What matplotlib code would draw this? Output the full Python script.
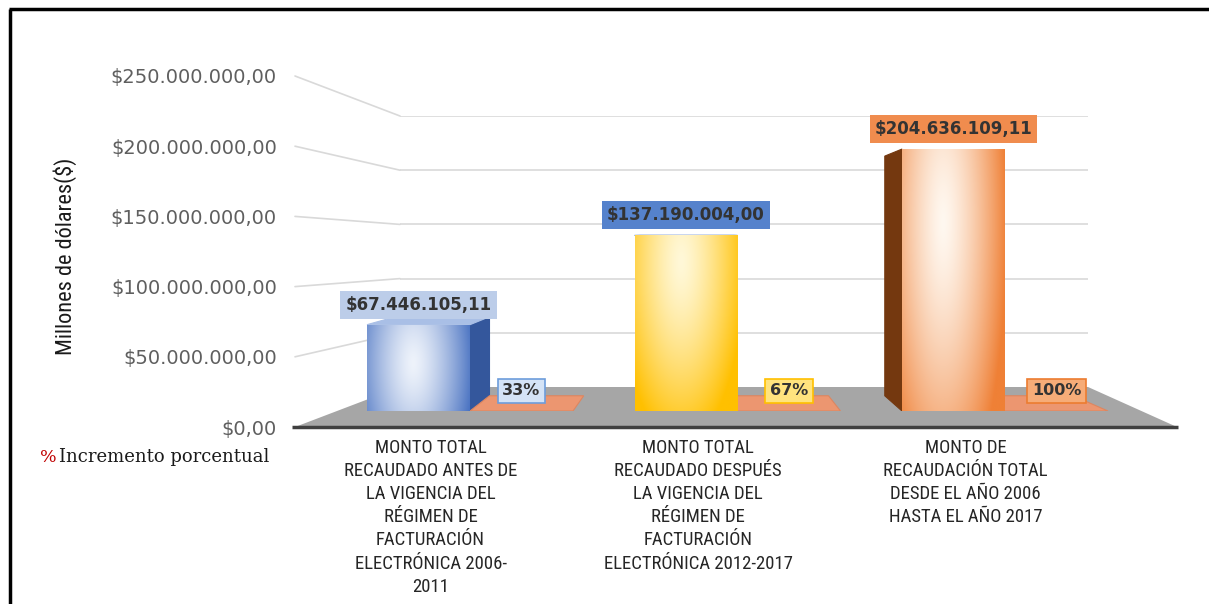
import numpy as np
import matplotlib
matplotlib.use("Agg")
import matplotlib.pyplot as plt
from matplotlib.patches import Polygon, ConnectionPatch
from matplotlib.colors import to_rgb

categorias = [
    "MONTO TOTAL\nRECAUDADO ANTES DE\nLA VIGENCIA DEL\nRÉGIMEN DE\nFACTURACIÓN\nELECTRÓNICA 2006-\n2011",
    "MONTO TOTAL\nRECAUDADO DESPUÉS\nLA VIGENCIA DEL\nRÉGIMEN DE\nFACTURACIÓN\nELECTRÓNICA 2012-2017",
    "MONTO DE\nRECAUDACIÓN TOTAL\nDESDE EL AÑO 2006\nHASTA EL AÑO 2017",
]
montos = [67446105.11, 137190004.00, 204636109.11]
porcentajes = [0.33, 0.67, 1.00]
ticks_y = [0, 50e6, 100e6, 150e6, 200e6, 250e6]

# colores por barra: (claro, borde, cara lateral, caja del monto, caja del %)
claro = ["#eef3fb", "#fff8d8", "#fff8f0"]
oscuro = ["#3c68bd", "#ffc000", "#ef8036"]
lateral = ["#34579c", "#c99700", "#74380f"]
caja_monto = ["#bccde9", "#5582cc", "#f08c4e"]
caja_pct = ["#d4e3f6", "#ffe37e", "#f6ac78"]
borde_pct = ["#6d9ddb", "#ffc000", "#ec7c30"]
foco = [(0.45, 0.55), (0.45, 0.85), (0.40, 0.72)]
caida = [0.45, 0.35, 0.22]

ANGOSTA = ["Roboto Condensed", "Liberation Sans Narrow", "Roboto"]

W, H = 1209, 604


def rect(l, t, r, b):
    return [l / W, 1 - b / H, (r - l) / W, (b - t) / H]


def pesos(v):
    s = f"${v:,.2f}"
    return s.replace(",", "#").replace(".", ",").replace("#", ".")


fig = plt.figure(figsize=(W / 100, H / 100), dpi=100)

# pared del fondo con sus lineas de division
wall = fig.add_axes(rect(400, 116, 1088, 387), zorder=0)
wall.set_xlim(0, 1)
wall.set_ylim(0, 250e6)
wall.axis("off")
for t in ticks_y[1:]:
    wall.axhline(t, color="#d9d9d9", lw=1.2)

# eje de valores en el plano frontal
front = fig.add_axes(rect(295, 76, 296, 427), zorder=0.1)
front.set_xlim(0, 1)
front.set_ylim(0, 250e6)
front.set_yticks(ticks_y)
front.set_yticklabels([pesos(t) for t in ticks_y], fontsize=14, color="#5f5f5f",
                      family=["DejaVu Sans"])
front.tick_params(axis="y", length=0, pad=13)
front.set_xticks([])
for s in front.spines.values():
    s.set_visible(False)
front.patch.set_alpha(0)

for t in ticks_y[1:]:
    con = ConnectionPatch(xyA=(0, t), coordsA=front.transData,
                          xyB=(0, t), coordsB=wall.transData,
                          color="#d9d9d9", lw=1.2)
    con.set_zorder(0.15)
    fig.add_artist(con)

# marco, piso y textos sueltos
bg = fig.add_axes([0, 0, 1, 1], zorder=0.3)
bg.set_xlim(0, W)
bg.set_ylim(H, 0)
bg.axis("off")
bg.add_patch(Polygon([(295, 427), (400, 387), (1088, 387), (1177, 427)],
                     closed=True, fc="#a6a6a6", ec="none"))
bg.plot([292, 1178], [427, 427], color="#404040", lw=2.5, solid_capstyle="butt")
bg.plot([10, 10], [9, 604], color="black", lw=2.5, solid_capstyle="butt")
bg.plot([9, 1209], [9, 9], color="black", lw=2.5, solid_capstyle="butt")
bg.text(65, 256, "Millones de dólares($)", rotation=90, ha="center", va="center",
        fontsize=16, family=ANGOSTA, color="#1a1a1a")
bg.text(40, 457, "%", color="#c00000", fontsize=12.5, family=["DejaVu Serif"],
        va="center", ha="left")
bg.text(59, 457, "Incremento porcentual", color="#1a1a1a", fontsize=13,
        family=["DejaVu Serif"], va="center", ha="left")

# barras
ax = fig.add_axes(rect(284.75, 91, 1194.25, 411), zorder=1)
ax.patch.set_alpha(0)
ax.axis("off")
ax.set_autoscale_on(False)
ax.set_xlim(-0.5, 2.9)
ax.set_ylim(0, 250e6)

VP_X, VP_Y, DEPTH = 1.05, 140e6, 0.085
ancho = 0.385
x = np.arange(len(montos))
x_pct = x + ancho


def recede(px, py):
    return px + DEPTH * (VP_X - px), py + DEPTH * (VP_Y - py)


def degradado(c1, c2, fx, fy, wpx, hpx, k, n=160):
    u = np.linspace(0, 1, n)
    w = np.linspace(0, 1, n)
    U, V = np.meshgrid(u, w)
    d = np.sqrt(((U - fx) * wpx) ** 2 + ((V - fy) * hpx * k) ** 2) / (0.62 * wpx)
    t = np.clip(d, 0, 1) ** 1.4
    a, b = np.array(to_rgb(c1)), np.array(to_rgb(c2))
    return a * (1 - t[..., None]) + b * t[..., None]


barras = ax.bar(x, montos, width=ancho, color=oscuro, edgecolor="none", zorder=3)
for i, (r, v) in enumerate(zip(barras, montos)):
    x0, x1 = r.get_x(), r.get_x() + r.get_width()
    caras = []
    if x1 < VP_X:
        caras.append(([(x1, 0), (x1, v), recede(x1, v), recede(x1, 0)], lateral[i]))
    if x0 > VP_X:
        caras.append(([(x0, 0), (x0, v), recede(x0, v), recede(x0, 0)], lateral[i]))
    if v < VP_Y:
        caras.append(([(x0, v), (x1, v), recede(x1, v), recede(x0, v)], "#a9bfe6"))
    for pts, c in caras:
        ax.add_patch(Polygon(pts, closed=True, fc=c, ec=c, lw=0.8, zorder=2))
    hpx = v * 1.28e-6
    img = degradado(claro[i], oscuro[i], foco[i][0], foco[i][1], 103, hpx, caida[i])
    im = ax.imshow(img, extent=(x0, x1, 0, v), origin="lower", aspect="auto",
                   interpolation="bilinear", zorder=4)
    im.set_clip_path(r)
    ax.add_patch(Polygon(r.get_verts(), closed=True, fc="none",
                         ec=oscuro[i], lw=1.2, zorder=5))

# serie del incremento porcentual: barras casi planas sobre el piso
planas = ax.bar(x_pct, porcentajes, width=ancho, color="#ec9670", zorder=2)
for r, p in zip(planas, porcentajes):
    x0, x1 = r.get_x(), r.get_x() + r.get_width()
    ax.add_patch(Polygon([(x0, p), (x1, p), recede(x1, p), recede(x0, p)], closed=True,
                         fc="#ec9670", ec="#dd8660", lw=0.8, zorder=2))

for i, v in enumerate(montos):
    ax.annotate(pesos(v), (x[i], v), xytext=(0, 14.4), textcoords="offset points",
                ha="center", va="center", fontsize=12, fontweight="bold", color="#333333",
                zorder=6,
                bbox=dict(boxstyle="square,pad=0.3", fc=caja_monto[i], ec="none"))
for i, p in enumerate(porcentajes):
    ax.annotate(f"{p:.0%}", (x_pct[i], p), xytext=(0, 14.4), textcoords="offset points",
                ha="center", va="center", fontsize=11.5, fontweight="bold", color="#333333",
                zorder=6,
                bbox=dict(boxstyle="square,pad=0.3", fc=caja_pct[i], ec=borde_pct[i], lw=1.2))

for i, c in enumerate(categorias):
    ax.annotate(c, (x[i] + 0.045, 0), xytext=(0, -20), textcoords="offset points",
                ha="center", va="top", fontsize=13.5, linespacing=1.37, color="#262626",
                family=ANGOSTA, annotation_clip=False)

fig.savefig("out.png", dpi=100)
